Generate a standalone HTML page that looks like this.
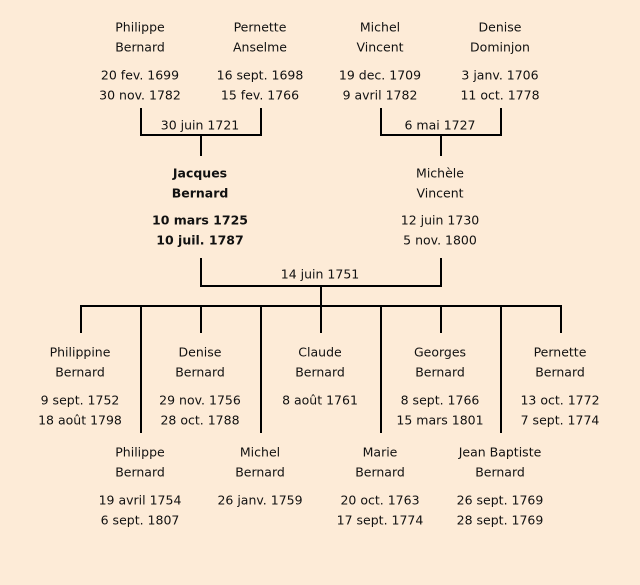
<!DOCTYPE html>
<html><head><meta charset="utf-8"><style>
html,body{margin:0;padding:0;background:#fdebd7;}
svg{display:block}
text{font-family:"DejaVu Sans","Liberation Sans",sans-serif;font-size:12.5px;fill:#111;text-anchor:middle;dominant-baseline:central}
.b{font-weight:bold}
line{stroke:#000;stroke-width:2}
</style></head><body>
<svg width="640" height="585" viewBox="0 0 640 585">
<rect width="640" height="585" fill="#fdebd7"/>
<!-- top brackets -->
<line x1="141" y1="108" x2="141" y2="136"/><line x1="261" y1="108" x2="261" y2="136"/>
<line x1="140" y1="135" x2="262" y2="135"/><line x1="201" y1="135" x2="201" y2="156"/>
<line x1="381" y1="108" x2="381" y2="136"/><line x1="501" y1="108" x2="501" y2="136"/>
<line x1="380" y1="135" x2="502" y2="135"/><line x1="441" y1="135" x2="441" y2="156"/>
<!-- middle -->
<line x1="201" y1="258" x2="201" y2="287"/><line x1="441" y1="258" x2="441" y2="287"/>
<line x1="200" y1="286" x2="442" y2="286"/><line x1="321" y1="286" x2="321" y2="306"/>
<line x1="80" y1="306" x2="562" y2="306"/>
<line x1="81" y1="306" x2="81" y2="333"/><line x1="201" y1="306" x2="201" y2="333"/>
<line x1="321" y1="306" x2="321" y2="333"/><line x1="441" y1="306" x2="441" y2="333"/>
<line x1="561" y1="306" x2="561" y2="333"/>
<line x1="141" y1="306" x2="141" y2="433"/><line x1="261" y1="306" x2="261" y2="433"/>
<line x1="381" y1="306" x2="381" y2="433"/><line x1="501" y1="306" x2="501" y2="433"/>

<text x="140" y="27">Philippe</text><text x="140" y="47">Bernard</text><text x="140" y="75">20 fev. 1699</text><text x="140" y="95">30 nov. 1782</text>
<text x="260" y="27">Pernette</text><text x="260" y="47">Anselme</text><text x="260" y="75">16 sept. 1698</text><text x="260" y="95">15 fev. 1766</text>
<text x="380" y="27">Michel</text><text x="380" y="47">Vincent</text><text x="380" y="75">19 dec. 1709</text><text x="380" y="95">9 avril 1782</text>
<text x="500" y="27">Denise</text><text x="500" y="47">Dominjon</text><text x="500" y="75">3 janv. 1706</text><text x="500" y="95">11 oct. 1778</text>
<text x="200" y="125">30 juin 1721</text><text x="440" y="125">6 mai 1727</text>

<text class="b" x="200" y="173">Jacques</text><text class="b" x="200" y="193">Bernard</text><text class="b" x="200" y="220">10 mars 1725</text><text class="b" x="200" y="240">10 juil. 1787</text>
<text x="440" y="173">Michèle</text><text x="440" y="193">Vincent</text><text x="440" y="220">12 juin 1730</text><text x="440" y="240">5 nov. 1800</text>
<text x="320" y="274">14 juin 1751</text>

<text x="80" y="352">Philippine</text><text x="80" y="372">Bernard</text><text x="80" y="400">9 sept. 1752</text><text x="80" y="420">18 août 1798</text>
<text x="200" y="352">Denise</text><text x="200" y="372">Bernard</text><text x="200" y="400">29 nov. 1756</text><text x="200" y="420">28 oct. 1788</text>
<text x="320" y="352">Claude</text><text x="320" y="372">Bernard</text><text x="320" y="400">8 août 1761</text>
<text x="440" y="352">Georges</text><text x="440" y="372">Bernard</text><text x="440" y="400">8 sept. 1766</text><text x="440" y="420">15 mars 1801</text>
<text x="560" y="352">Pernette</text><text x="560" y="372">Bernard</text><text x="560" y="400">13 oct. 1772</text><text x="560" y="420">7 sept. 1774</text>

<text x="140" y="452">Philippe</text><text x="140" y="472">Bernard</text><text x="140" y="500">19 avril 1754</text><text x="140" y="520">6 sept. 1807</text>
<text x="260" y="452">Michel</text><text x="260" y="472">Bernard</text><text x="260" y="500">26 janv. 1759</text>
<text x="380" y="452">Marie</text><text x="380" y="472">Bernard</text><text x="380" y="500">20 oct. 1763</text><text x="380" y="520">17 sept. 1774</text>
<text x="500" y="452">Jean Baptiste</text><text x="500" y="472">Bernard</text><text x="500" y="500">26 sept. 1769</text><text x="500" y="520">28 sept. 1769</text>
</svg>
</body></html>
